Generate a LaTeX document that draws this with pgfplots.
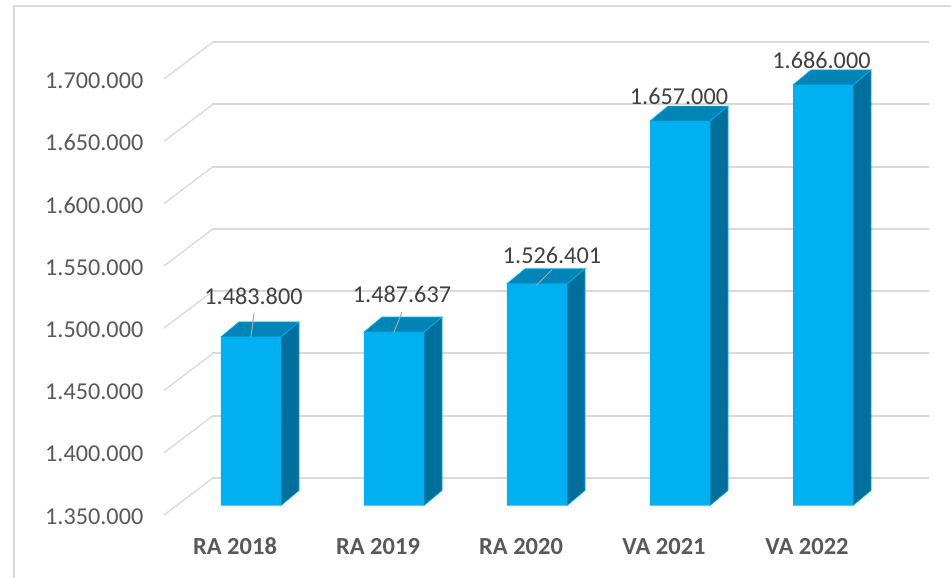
\documentclass[border=0pt]{standalone}
\usepackage{pgfplots}
\pgfplotsset{compat=1.18}
\usepackage{fontspec}
\setmainfont{Carlito}
\definecolor{front}{HTML}{00B0F0}
\definecolor{sidec}{HTML}{006F9B}
\definecolor{topc}{HTML}{0085B6}
\definecolor{gridc}{HTML}{D9D9D9}
\definecolor{tickc}{HTML}{595959}
\definecolor{labc}{HTML}{404040}
\definecolor{leader}{HTML}{A6A6A6}
\begin{document}
\begin{tikzpicture}
\draw[gridc,line width=1.3bp] (-165.5bp,-72.5bp) -- (-165.5bp,499.5bp) -- (771.5bp,499.5bp);
\begin{axis}[
  scale only axis, width=715bp, height=438bp, at={(0,0)}, anchor=south west,
  xmin=-0.5, xmax=4.5, ymin=1348400, ymax=1700000,
  clip=false,
  axis line style={draw=none},
  major tick length=0pt,
  tick style={draw=none},
  xtick={0,1,2,3,4},
  xticklabels={RA 2018,RA 2019,RA 2020,VA 2021,VA 2022},
  ytick={1350000,1400000,1450000,1500000,1550000,1600000,1650000,1700000},
  scaled y ticks=false,
  yticklabel style={font=\fontsize{24.3}{28}\selectfont, text=tickc, anchor=east, inner sep=0pt, xshift=-36bp, yshift=-13bp,
    /pgf/number format/.cd, fixed, precision=0, 1000 sep={.}, assume math mode=true},
  xticklabel style={font=\fontsize{24.6}{28}\selectfont\bfseries, text=tickc, anchor=center, inner sep=0pt, xshift=-16bp, yshift=-41bp},
]
\pgfplotsinvokeforeach{1350000,1400000,1450000,1500000,1550000,1600000,1650000,1700000}{
  \draw[gridc,line width=1.3bp]
    ([shift={(-15.5bp,-11.5bp)}]axis cs:-0.5,#1) --
    ([shift={(33.5bp,25.5bp)}]axis cs:-0.5,#1);
  \draw[gridc,line width=1.9bp]
    ([shift={(33bp,25.5bp)}]axis cs:-0.5,#1) --
    ([shift={(749.5bp,25.5bp)}]axis cs:-0.5,#1);
}
% front faces
\addplot[ybar, bar width=60bp, bar shift=0pt, fill=front, draw=none] coordinates {(0,1483800)(1,1487637)(2,1526401)(3,1657000)(4,1686000)};
% side faces
\addplot[fill=sidec, draw=front, line width=0.6bp] coordinates {(0.2098,1348400)(0.3357,1360439)(0.3357,1495839)(0.2098,1483800)} -- cycle;
\addplot[fill=sidec, draw=front, line width=0.6bp] coordinates {(1.2098,1348400)(1.3357,1360439)(1.3357,1499676)(1.2098,1487637)} -- cycle;
\addplot[fill=sidec, draw=front, line width=0.6bp] coordinates {(2.2098,1348400)(2.3357,1360439)(2.3357,1538440)(2.2098,1526401)} -- cycle;
\addplot[fill=sidec, draw=front, line width=0.6bp] coordinates {(3.2098,1348400)(3.3357,1360439)(3.3357,1669039)(3.2098,1657000)} -- cycle;
\addplot[fill=sidec, draw=front, line width=0.6bp] coordinates {(4.2098,1348400)(4.3357,1360439)(4.3357,1698039)(4.2098,1686000)} -- cycle;
% top faces
\addplot[fill=topc, draw=front, line width=0.6bp] coordinates {(-0.2098,1483800)(0.2098,1483800)(0.3357,1495839)(-0.0839,1495839)} -- cycle;
\addplot[fill=topc, draw=front, line width=0.6bp] coordinates {(0.7902,1487637)(1.2098,1487637)(1.3357,1499676)(0.9161,1499676)} -- cycle;
\addplot[fill=topc, draw=front, line width=0.6bp] coordinates {(1.7902,1526401)(2.2098,1526401)(2.3357,1538440)(1.9161,1538440)} -- cycle;
\addplot[fill=topc, draw=front, line width=0.6bp] coordinates {(2.7902,1657000)(3.2098,1657000)(3.3357,1669039)(2.9161,1669039)} -- cycle;
\addplot[fill=topc, draw=front, line width=0.6bp] coordinates {(3.7902,1686000)(4.2098,1686000)(4.3357,1698039)(3.9161,1698039)} -- cycle;
% leaders
\draw[leader,line width=1bp] ([shift={(3bp,24bp)}]axis cs:0,1483800) -- ([shift={(0bp,0bp)}]axis cs:0,1483800);
\draw[leader,line width=1bp] ([shift={(8bp,20bp)}]axis cs:1,1487637) -- ([shift={(0bp,0bp)}]axis cs:1,1487637);
\draw[leader,line width=1bp] ([shift={(15bp,14bp)}]axis cs:2,1526401) -- ([shift={(-1bp,-2bp)}]axis cs:2,1526401);
% data labels
\tikzset{dl/.style={font=\fontsize{24.3}{28}\selectfont, text=labc, inner sep=0pt, anchor=center}}
\node[dl] at ([shift={(2.5bp,40.8bp)}]axis cs:0,1483800) {1.483.800};
\node[dl] at ([shift={(8bp,38bp)}]axis cs:1,1487637) {1.487.637};
\node[dl] at ([shift={(15bp,28.7bp)}]axis cs:2,1526401) {1.526.401};
\node[dl] at ([shift={(-1bp,25bp)}]axis cs:3,1657000) {1.657.000};
\node[dl] at ([shift={(-1.5bp,24.8bp)}]axis cs:4,1686000) {1.686.000};
\end{axis}
\pgfresetboundingbox
\path (-179.5bp,-72.5bp) rectangle (771.5bp,505.5bp);
\end{tikzpicture}
\end{document}
